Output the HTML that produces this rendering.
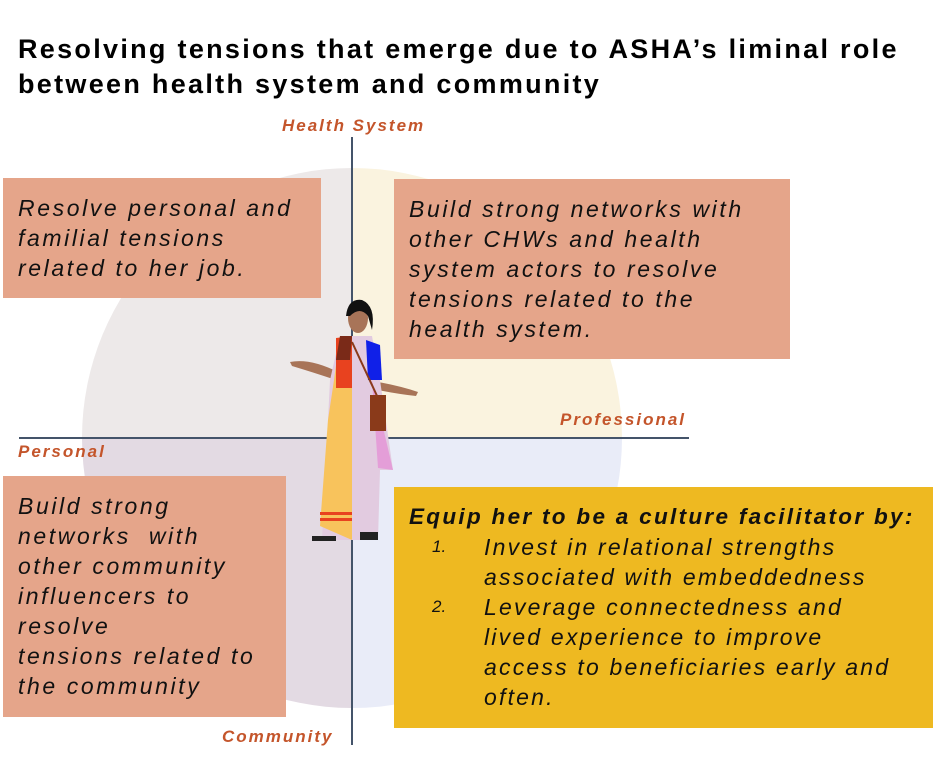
<!DOCTYPE html>
<html><head><meta charset="utf-8"><style>
html,body{margin:0;width:940px;height:761px;overflow:hidden}
body{background:#fff;position:relative;font-family:"Liberation Sans",sans-serif}
.a{position:absolute}
.t{font-weight:bold;font-size:27px;color:#000;left:18px;line-height:35px;top:32px;letter-spacing:2.3px;white-space:nowrap}
.box{position:absolute;background:#e5a58a}
.tx{position:absolute;font-style:italic;font-size:23px;line-height:30px;color:#111;letter-spacing:2.6px;white-space:nowrap}
.lb{position:absolute;font-style:italic;font-weight:bold;font-size:17px;color:#c4552b;white-space:nowrap;letter-spacing:2px}
</style></head><body>
<div class="a t">Resolving tensions that emerge due to ASHA’s liminal role<br>between health system and community</div>
<svg class="a" style="left:0;top:0" width="940" height="761">
<clipPath id="c"><circle cx="352" cy="438" r="270"/></clipPath>
<g clip-path="url(#c)">
<rect x="0" y="0" width="352" height="438" fill="#ede9e9"/>
<rect x="352" y="0" width="600" height="438" fill="#faf3df"/>
<rect x="0" y="438" width="352" height="400" fill="#e3dae3"/>
<rect x="352" y="438" width="600" height="400" fill="#e9ecf8"/>
</g>
<line x1="352" y1="137" x2="352" y2="745" stroke="#44546a" stroke-width="2"/>
<line x1="19" y1="438" x2="689" y2="438" stroke="#44546a" stroke-width="2"/>
<g>
<path d="M290 362 Q310 358 338 372 L336 380 Q312 372 292 366Z" fill="#a87458"/>
<path d="M378 382 Q400 386 418 392 L416 396 Q398 394 378 390Z" fill="#a87458"/>
<ellipse cx="358" cy="318" rx="10" ry="15" fill="#a87458"/>
<path d="M346 316 Q348 298 362 300 Q376 306 372 330 L368 316 Q360 306 350 316Z" fill="#111"/>
<path d="M340 336 L372 336 L380 380 L393 470 L380 470 L378 540 L322 540 L330 380Z" fill="#e2cbe0"/>
<path d="M340 336 L352 336 L352 540 L320 526 L328 420 L334 380Z" fill="#f8c35c"/>
<path d="M336 338 L352 336 L352 388 L336 388Z" fill="#e8421f"/>
<path d="M340 336 L352 336 L350 360 L336 360Z" fill="#7a2a18"/>
<path d="M366 340 L380 345 L382 380 L368 380Z" fill="#1020e8"/>
<path d="M372 380 L393 470 L378 468Z" fill="#e49ed8"/>
<rect x="320" y="512" width="32" height="3" fill="#e8421f"/>
<rect x="320" y="518" width="32" height="3" fill="#e8421f"/>
<rect x="370" y="395" width="16" height="36" fill="#8a3a1a"/>
<line x1="352" y1="342" x2="378" y2="398" stroke="#8a3a1a" stroke-width="2"/>
<rect x="312" y="536" width="24" height="5" fill="#222"/>
<rect x="360" y="532" width="18" height="8" fill="#222"/>
</g>
</svg>
<div class="lb" style="left:282px;top:116px">Health System</div>
<div class="lb" style="left:560px;top:410px">Professional</div>
<div class="lb" style="left:18px;top:442px">Personal</div>
<div class="lb" style="left:222px;top:727px">Community</div>

<div class="box" style="left:3px;top:178px;width:318px;height:120px"></div>
<div class="tx" style="left:18px;top:193px">Resolve personal and<br>familial tensions<br>related to her job.</div>

<div class="box" style="left:394px;top:179px;width:396px;height:180px"></div>
<div class="tx" style="left:409px;top:194px">Build strong networks with<br>other CHWs and health<br>system actors to resolve<br>tensions related to the<br>health system.</div>

<div class="box" style="left:3px;top:476px;width:283px;height:241px"></div>
<div class="tx" style="left:18px;top:491px">Build strong<br>networks&nbsp; with<br>other community<br>influencers to<br>resolve<br>tensions related to<br>the community</div>

<div class="box" style="left:394px;top:487px;width:539px;height:241px;background:#eeb921"></div>
<div class="tx" style="left:409px;top:502px;font-weight:bold;font-size:22.5px;letter-spacing:2.3px">Equip her to be a culture facilitator by:</div>
<div class="tx" style="left:432px;top:532px;font-size:17px;letter-spacing:0">1.</div>
<div class="tx" style="left:432px;top:592px;font-size:17px;letter-spacing:0">2.</div>
<div class="tx" style="left:484px;top:532px;letter-spacing:2.2px">Invest in relational strengths<br>associated with embeddedness<br>Leverage connectedness and<br>lived experience to improve<br>access to beneficiaries early and<br>often.</div>
</body></html>
